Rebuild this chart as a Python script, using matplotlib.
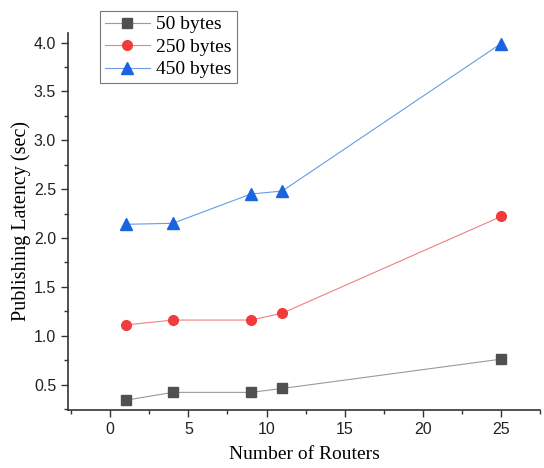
import matplotlib
matplotlib.use("Agg")
import matplotlib.pyplot as plt
from matplotlib.ticker import MultipleLocator

routers = [1, 4, 9, 11, 25]
lat_50 = [0.34, 0.42, 0.42, 0.46, 0.76]
lat_250 = [1.11, 1.16, 1.16, 1.23, 2.22]
lat_450 = [2.14, 2.15, 2.45, 2.48, 3.99]

fig = plt.figure(figsize=(5.44, 4.68), dpi=100)
ax = fig.add_axes([0.125, 0.124, 0.868, 0.806])

ax.plot(routers, lat_50, color="#9a9a9a", lw=0.8, marker="s", ms=7,
        mfc="#505050", mec="#505050", label="50 bytes")
ax.plot(routers, lat_250, color="#f08080", lw=0.8, marker="o", ms=7,
        mfc="#f03c3c", mec="#f03c3c", label="250 bytes")
ax.plot(routers, lat_450, color="#6a9ae8", lw=0.8, marker="^", ms=8,
        mfc="#1a64e0", mec="#1a64e0", label="450 bytes")

ax.set_xlim(-2.7, 27.5)
ax.set_ylim(0.24, 4.1)
ax.xaxis.set_major_locator(MultipleLocator(5))
ax.xaxis.set_minor_locator(MultipleLocator(2.5))
ax.yaxis.set_major_locator(MultipleLocator(0.5))
ax.yaxis.set_minor_locator(MultipleLocator(0.25))
ax.spines["top"].set_visible(False)
ax.spines["right"].set_visible(False)
for s in ["left", "bottom"]:
    ax.spines[s].set_linewidth(1.2)
    ax.spines[s].set_color("#333333")
ax.tick_params(which="major", length=5, width=1.0, colors="#333333",
               labelsize=11.5, labelcolor="#222222")
ax.tick_params(which="minor", length=3, width=1.0, colors="#333333")
for lab in ax.get_xticklabels() + ax.get_yticklabels():
    lab.set_family("Liberation Sans")

ax.set_xlabel("Number of Routers", family="Liberation Serif", fontsize=14, labelpad=7)
ax.set_ylabel("Publishing Latency (sec)", family="Liberation Serif", fontsize=14.5, labelpad=2)

leg = fig.legend(loc="upper left", bbox_to_anchor=(100 / 544, 1 - 11 / 468),
                 prop={"family": "Liberation Serif", "size": 14},
                 frameon=True, fancybox=False, edgecolor="#555555",
                 borderpad=0.25, labelspacing=0.25, handlelength=2.3,
                 handletextpad=0.35, borderaxespad=0)
leg.get_frame().set_linewidth(0.8)

fig.savefig("out.png", dpi=100)
